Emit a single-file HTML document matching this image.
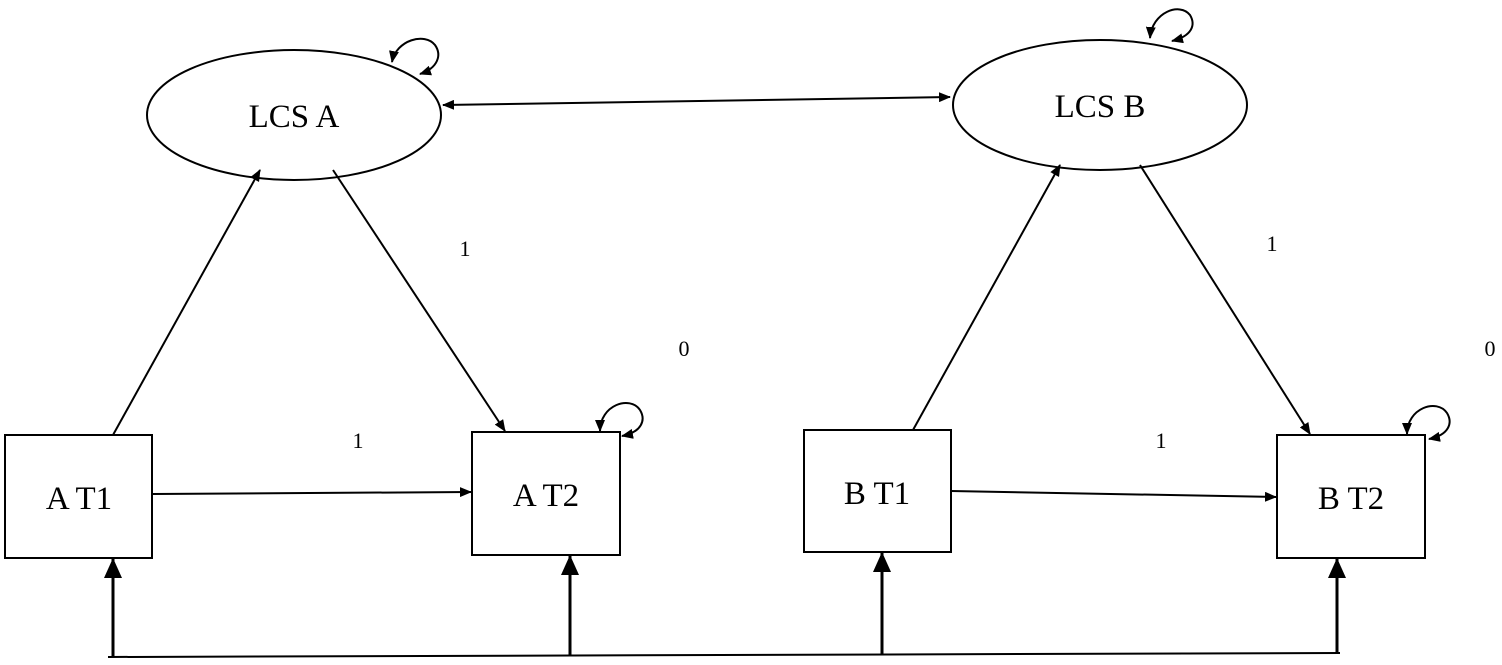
<!DOCTYPE html>
<html><head><meta charset="utf-8"><style>body{margin:0;background:#fff}</style></head>
<body>
<svg width="1502" height="660" viewBox="0 0 1502 660" xmlns="http://www.w3.org/2000/svg" font-family="Liberation Serif, serif">
<defs>
<marker id="a" markerWidth="12" markerHeight="10" refX="11" refY="5" orient="auto" markerUnits="userSpaceOnUse"><path d="M0,0 L12,5 L0,10 z" fill="#000"/></marker>
<marker id="as" markerWidth="12" markerHeight="10" refX="1" refY="5" orient="auto" markerUnits="userSpaceOnUse"><path d="M12,0 L0,5 L12,10 z" fill="#000"/></marker>
<marker id="b" markerWidth="20" markerHeight="18" refX="19" refY="9" orient="auto" markerUnits="userSpaceOnUse"><path d="M0,0 L20,9 L0,18 z" fill="#000"/></marker>
</defs>
<g stroke="#000" stroke-width="2" fill="none">
<ellipse cx="294" cy="115" rx="147" ry="65"/>
<ellipse cx="1100" cy="105" rx="147" ry="65"/>
<rect x="5" y="435" width="147" height="123"/>
<rect x="472" y="432" width="148" height="123"/>
<rect x="804" y="430" width="147" height="122"/>
<rect x="1277" y="435" width="148" height="123"/>
<line x1="443" y1="105" x2="950" y2="97" marker-start="url(#as)" marker-end="url(#a)"/>
<line x1="113" y1="435" x2="260" y2="170" marker-end="url(#a)"/>
<line x1="333" y1="170" x2="505" y2="431" marker-end="url(#a)"/>
<line x1="153" y1="494" x2="471" y2="492" marker-end="url(#a)"/>
<line x1="913" y1="430" x2="1060" y2="165" marker-end="url(#a)"/>
<line x1="1140" y1="165" x2="1310" y2="434" marker-end="url(#a)"/>
<line x1="951" y1="491" x2="1276" y2="497" marker-end="url(#a)"/>
<path d="M392,62 C396,40 425,32 435,45 C442,55 438,68 420,74" marker-start="url(#as)" marker-end="url(#a)"/>
<path d="M1150,38 C1152,12 1180,2 1190,15 C1196,25 1192,36 1172,41" marker-start="url(#as)" marker-end="url(#a)"/>
<path d="M600,431 C600,405 630,395 640,410 C646,420 642,432 622,436" marker-start="url(#as)" marker-end="url(#a)"/>
<path d="M1407,434 C1407,408 1437,398 1447,413 C1453,423 1449,435 1429,439" marker-start="url(#as)" marker-end="url(#a)"/>
<line x1="108" y1="657" x2="1340" y2="653"/>
<g stroke-width="3">
<line x1="113" y1="657" x2="113" y2="559" marker-end="url(#b)"/>
<line x1="570" y1="656" x2="570" y2="556" marker-end="url(#b)"/>
<line x1="882" y1="655" x2="882" y2="553" marker-end="url(#b)"/>
<line x1="1337" y1="653" x2="1337" y2="559" marker-end="url(#b)"/>
</g>
</g>
<g font-size="33" fill="#000" text-anchor="middle">
<text x="294" y="127">LCS A</text>
<text x="1100" y="117">LCS B</text>
<text x="79" y="509">A T1</text>
<text x="546" y="506">A T2</text>
<text x="877" y="504">B T1</text>
<text x="1351" y="509">B T2</text>
</g>
<g font-size="22" fill="#000" text-anchor="middle">
<text x="465" y="256">1</text>
<text x="358" y="448">1</text>
<text x="684" y="356">0</text>
<text x="1272" y="251">1</text>
<text x="1161" y="448">1</text>
<text x="1490" y="356">0</text>
</g>
</svg>
</body></html>
